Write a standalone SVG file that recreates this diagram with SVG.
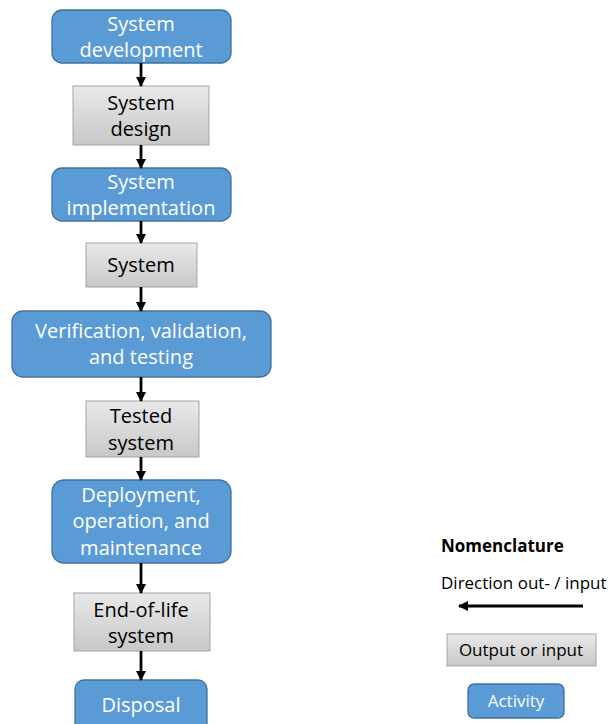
<svg xmlns="http://www.w3.org/2000/svg" width="612" height="724" viewBox="0 0 612 724">
  <defs>
    <linearGradient id="grayFill" x1="0" y1="0" x2="0" y2="1">
      <stop offset="0" stop-color="#e9e9e9"/>
      <stop offset="1" stop-color="#c8c8c8"/>
    </linearGradient>
    <marker id="arrow" viewBox="0 0 10 10" refX="9" refY="5" markerWidth="3.6" markerHeight="3.6" orient="auto" markerUnits="strokeWidth">
      <path d="M0,0 L10,5 L0,10 Z" fill="#000"/>
    </marker>
  </defs>
  <style>
    .activity { fill: #5b9bd5; stroke: #41719c; stroke-width: 1.3; }
    .artifact { fill: url(#grayFill); stroke: #a5a5a5; stroke-width: 1; }
    .wt { fill: #ffffff; font-family: "Open Sans", "Noto Sans", sans-serif; font-size: 20px; text-anchor: middle; }
    .bt { fill: #000000; font-family: "Open Sans", "Noto Sans", sans-serif; font-size: 20px; text-anchor: middle; }
    .lg { font-family: "Open Sans", "Noto Sans", sans-serif; font-size: 17px; }
    .flow { stroke: #000; stroke-width: 2.8; fill: none; marker-end: url(#arrow); }
  </style>

  <!-- process chain -->
  <g id="system-development">
    <rect class="activity" x="52" y="10" width="179" height="53" rx="10"/>
    <text class="wt" x="141" y="31">System</text>
    <text class="wt" x="141" y="57">development</text>
  </g>
  <g id="system-design">
    <rect class="artifact" x="73" y="86" width="136" height="59"/>
    <text class="bt" x="141" y="110">System</text>
    <text class="bt" x="141" y="136">design</text>
  </g>
  <g id="system-implementation">
    <rect class="activity" x="52" y="168" width="179" height="53" rx="10"/>
    <text class="wt" x="141" y="189">System</text>
    <text class="wt" x="141" y="215">implementation</text>
  </g>
  <g id="system">
    <rect class="artifact" x="86" y="243" width="111" height="44"/>
    <text class="bt" x="141" y="272">System</text>
  </g>
  <g id="verification-validation-testing">
    <rect class="activity" x="12" y="311" width="259" height="66" rx="11"/>
    <text class="wt" x="141" y="338">Verification, validation,</text>
    <text class="wt" x="141" y="364">and testing</text>
  </g>
  <g id="tested-system">
    <rect class="artifact" x="86" y="401" width="113" height="56"/>
    <text class="bt" x="141" y="423">Tested</text>
    <text class="bt" x="141" y="450">system</text>
  </g>
  <g id="deployment-operation-maintenance">
    <rect class="activity" x="52" y="480" width="179" height="83" rx="12"/>
    <text class="wt" x="141" y="502">Deployment,</text>
    <text class="wt" x="141" y="528">operation, and</text>
    <text class="wt" x="141" y="555">maintenance</text>
  </g>
  <g id="end-of-life-system">
    <rect class="artifact" x="74" y="593" width="136" height="58"/>
    <text class="bt" x="141" y="617">End-of-life</text>
    <text class="bt" x="141" y="643">system</text>
  </g>
  <g id="disposal">
    <rect class="activity" x="75" y="680" width="132" height="56" rx="9"/>
    <text class="wt" x="141" y="712">Disposal</text>
  </g>

  <!-- flow arrows -->
  <g id="connectors">
    <line class="flow" x1="141" y1="63" x2="141" y2="86"/>
    <line class="flow" x1="141" y1="145" x2="141" y2="168"/>
    <line class="flow" x1="141" y1="221" x2="141" y2="243"/>
    <line class="flow" x1="141" y1="287" x2="141" y2="311"/>
    <line class="flow" x1="141" y1="377" x2="141" y2="401"/>
    <line class="flow" x1="141" y1="457" x2="141" y2="480"/>
    <line class="flow" x1="141" y1="563" x2="141" y2="593"/>
    <line class="flow" x1="141" y1="651" x2="141" y2="680"/>
  </g>

  <!-- legend -->
  <g id="legend">
    <text class="lg" x="441" y="552" font-weight="bold" font-size="16px">Nomenclature</text>
    <text class="lg" x="441" y="589" font-size="17.5px">Direction out- / input</text>
    <line class="flow" x1="583" y1="606" x2="459" y2="606"/>
    <g id="legend-artifact">
      <rect class="artifact" x="447" y="634" width="149" height="32"/>
      <text class="bt lg" x="521" y="656" text-anchor="middle">Output or input</text>
    </g>
    <g id="legend-activity">
      <rect class="activity" x="468" y="684" width="96" height="34" rx="6"/>
      <text class="wt lg" x="516" y="707">Activity</text>
    </g>
  </g>
</svg>
